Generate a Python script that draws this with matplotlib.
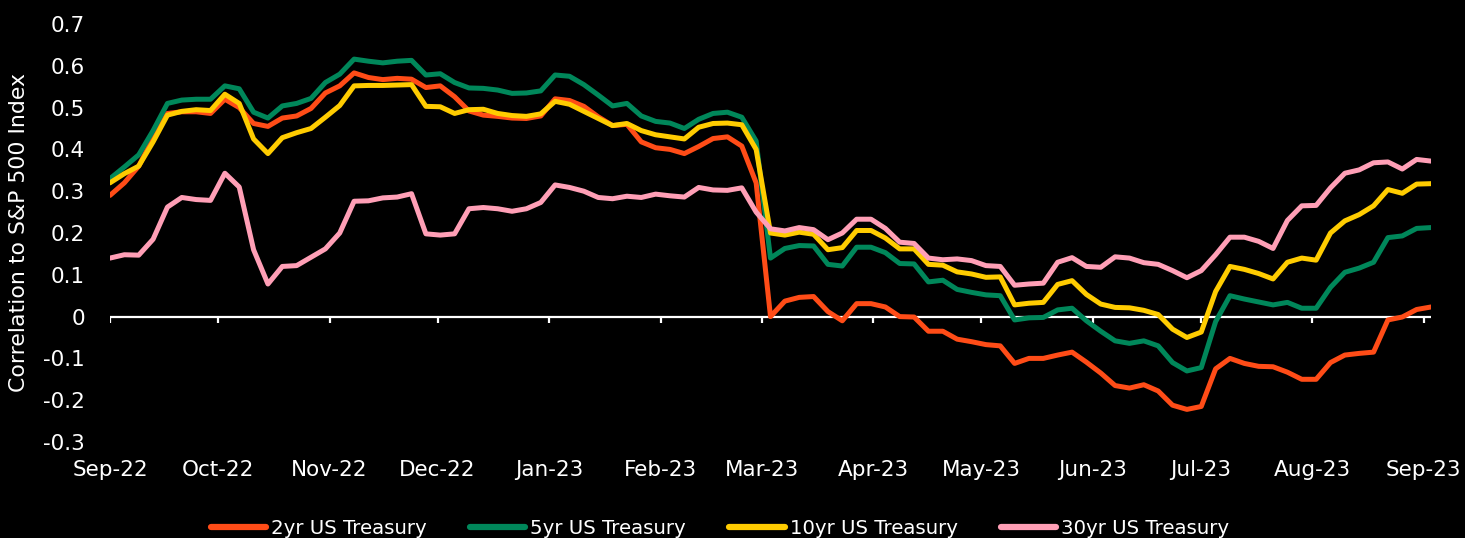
import numpy as np
import pandas as pd
import matplotlib
matplotlib.use("Agg")
import matplotlib.pyplot as plt
import matplotlib.dates as mdates
from matplotlib.ticker import FixedLocator, FixedFormatter

plt.rcParams['font.family'] = ['DejaVu Sans']

# roughly every 4 days, Sep-22 to early Sep-23
dates = pd.date_range("2022-09-01", "2023-09-03", periods=93)

ust_2yr = [
    0.29, 0.32, 0.36, 0.428, 0.486, 0.49, 0.49, 0.486, 0.52, 0.50,
    0.462, 0.455, 0.475, 0.48, 0.498, 0.535, 0.552, 0.583, 0.572, 0.567,
    0.57, 0.568, 0.548, 0.552, 0.526, 0.492, 0.482, 0.479, 0.475, 0.474,
    0.48, 0.521, 0.517, 0.503, 0.478, 0.457, 0.46, 0.418, 0.404, 0.40,
    0.39, 0.407, 0.426, 0.43, 0.408, 0.32, 0.0, 0.037, 0.046, 0.048,
    0.012, -0.01, 0.031, 0.031, 0.023, 0.0, -0.001, -0.035, -0.035, -0.054,
    -0.06, -0.067, -0.07, -0.112, -0.10, -0.10, -0.092, -0.085, -0.109, -0.135,
    -0.165, -0.171, -0.163, -0.178, -0.212, -0.222, -0.215, -0.125, -0.10, -0.112,
    -0.119, -0.12, -0.133, -0.15, -0.15, -0.11, -0.092, -0.088, -0.085, -0.008,
    -0.001, 0.017, 0.023,
]
ust_5yr = [
    0.33, 0.358, 0.387, 0.445, 0.51, 0.518, 0.52, 0.52, 0.552, 0.545,
    0.489, 0.475, 0.504, 0.51, 0.522, 0.56, 0.58, 0.616, 0.611, 0.607,
    0.611, 0.613, 0.578, 0.581, 0.56, 0.547, 0.546, 0.542, 0.534, 0.535,
    0.54, 0.578, 0.575, 0.555, 0.53, 0.504, 0.51, 0.48, 0.467, 0.463,
    0.45, 0.472, 0.486, 0.489, 0.477, 0.42, 0.14, 0.163, 0.17, 0.169,
    0.125, 0.121, 0.166, 0.166, 0.153, 0.127, 0.126, 0.083, 0.087, 0.065,
    0.058, 0.052, 0.05, -0.008, -0.003, -0.002, 0.016, 0.02, -0.01, -0.035,
    -0.058, -0.064, -0.058, -0.07, -0.11, -0.13, -0.122, -0.012, 0.05, 0.042,
    0.035, 0.028, 0.034, 0.02, 0.02, 0.07, 0.106, 0.116, 0.13, 0.189,
    0.193, 0.211, 0.213,
]
ust_10yr = [
    0.32, 0.342, 0.36, 0.418, 0.482, 0.491, 0.495, 0.493, 0.532, 0.51,
    0.425, 0.39, 0.428, 0.44, 0.45, 0.477, 0.505, 0.552, 0.553, 0.553,
    0.554, 0.555, 0.503, 0.502, 0.486, 0.495, 0.496, 0.486, 0.481, 0.479,
    0.485, 0.515, 0.508, 0.491, 0.474, 0.457, 0.462, 0.445, 0.435, 0.43,
    0.425, 0.453, 0.462, 0.463, 0.459, 0.40, 0.20, 0.195, 0.202, 0.197,
    0.16, 0.165, 0.206, 0.206, 0.188, 0.162, 0.162, 0.125, 0.123, 0.107,
    0.102, 0.094, 0.095, 0.028, 0.032, 0.034, 0.077, 0.086, 0.053, 0.03,
    0.022, 0.021, 0.015, 0.005, -0.03, -0.05, -0.037, 0.06, 0.12, 0.113,
    0.103, 0.09, 0.13, 0.14, 0.135, 0.20, 0.229, 0.244, 0.265, 0.304,
    0.295, 0.317, 0.318,
]
ust_30yr = [
    0.14, 0.148, 0.147, 0.185, 0.262, 0.285, 0.28, 0.278, 0.343, 0.31,
    0.16, 0.078, 0.12, 0.122, 0.142, 0.162, 0.20, 0.276, 0.277, 0.284,
    0.286, 0.294, 0.198, 0.195, 0.198, 0.258, 0.261, 0.258, 0.252, 0.258,
    0.273, 0.315, 0.309, 0.30, 0.285, 0.282, 0.288, 0.285, 0.293, 0.289,
    0.286, 0.309, 0.303, 0.302, 0.308, 0.25, 0.21, 0.205, 0.213, 0.208,
    0.184, 0.20, 0.233, 0.233, 0.211, 0.178, 0.175, 0.14, 0.136, 0.138,
    0.134, 0.122, 0.12, 0.075, 0.078, 0.08, 0.13, 0.141, 0.12, 0.118,
    0.143, 0.14, 0.129, 0.125, 0.11, 0.093, 0.11, 0.148, 0.19, 0.19,
    0.18, 0.163, 0.23, 0.265, 0.266, 0.308, 0.343, 0.351, 0.368, 0.37,
    0.353, 0.376, 0.372,
]

series_names = ["2yr US Treasury", "5yr US Treasury", "10yr US Treasury", "30yr US Treasury"]
series_colors = ["#ff4c17", "#00875a", "#ffcc00", "#ff9fb6"]

y_ticks = [0.7, 0.6, 0.5, 0.4, 0.3, 0.2, 0.1, 0, -0.1, -0.2, -0.3]
y_labels = ["0.7", "0.6", "0.5", "0.4", "0.3", "0.2", "0.1", "0", "-0.1", "-0.2", "-0.3"]
month_ticks = pd.date_range("2022-09-01", "2023-09-01", freq="MS")

fig = plt.figure(figsize=(14.65, 5.38), dpi=100, facecolor="black")
ax = fig.add_axes([110 / 1465, 1 - 442 / 538, (1431 - 110) / 1465, (442 - 24) / 538])
ax.set_facecolor("black")

# zero line with little month ticks hanging off it
ax.axhline(0, color="white", lw=1.6, zorder=1)
ax.vlines(month_ticks, -0.015, 0, color="white", lw=1.6, zorder=1)

for vals, name, col in zip([ust_2yr, ust_5yr, ust_10yr, ust_30yr], series_names, series_colors):
    ax.plot(dates, vals, color=col, lw=3.6, label=name, zorder=2,
            solid_joinstyle="round", solid_capstyle="round")

ax.set_xlim(pd.Timestamp("2022-09-01"), pd.Timestamp("2023-09-03"))
ax.set_ylim(-0.3, 0.7)
ax.yaxis.set_major_locator(FixedLocator(y_ticks))
ax.yaxis.set_major_formatter(FixedFormatter(y_labels))
ax.set_xticks(month_ticks)
ax.xaxis.set_major_formatter(mdates.DateFormatter("%b-%y"))

for s in ax.spines.values():
    s.set_visible(False)
ax.tick_params(axis="y", length=0, pad=18, labelsize=15.5, labelcolor="white")
ax.tick_params(axis="x", length=0, pad=13, labelsize=15.5, labelcolor="white")

fig.text(0.013, 0.567, "Correlation to S&P 500 Index", rotation=90, color="white",
         fontsize=15.8, ha="center", va="center")

leg = fig.legend(loc="center", bbox_to_anchor=(0.4915, 0.018), ncol=4, frameon=False,
                 fontsize=14.2, handlelength=2.8, handletextpad=0.25, columnspacing=2.2,
                 labelcolor="white")
for h in leg.get_lines():
    h.set_linewidth(4.5)

fig.savefig("out.png", dpi=100, facecolor="black")
